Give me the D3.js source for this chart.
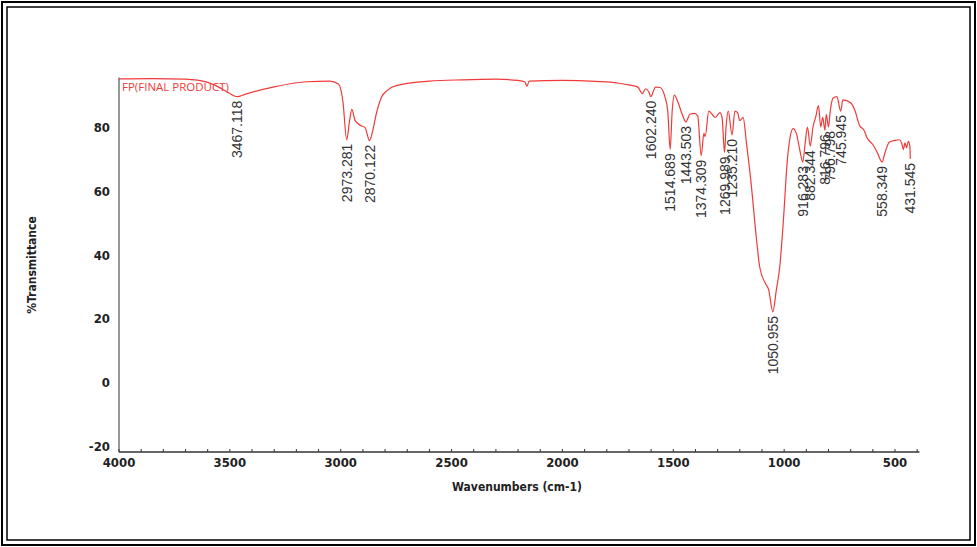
<!DOCTYPE html>
<html><head><meta charset="utf-8">
<script src="https://cdn.jsdelivr.net/npm/d3@7"></script>
<style>body{margin:0;background:#fff}svg{display:block}</style>
</head><body>
<svg id="c" width="977" height="547"></svg>
<script>
// spectrum trace [wavenumber, %T]
const spectrum = [
  [4000,95.1],[3850,95.2],[3700,95],[3600,94],[3550,92.5],[3500,90.5],[3467,89.5],[3430,90.3],[3300,92.6],[3150,94.2],[3050,94.4],[3010,93.5],
  [2990,88],[2973,76],[2960,82],[2950,85.5],[2935,82],[2910,80.5],[2890,79.8],[2870,75.7],[2855,79],[2840,84],[2815,89.5],[2790,91.5],[2750,93],
  [2600,94.4],[2450,94.8],[2300,95],[2200,94.6],[2170,94.2],[2160,92.8],[2150,94.4],[2000,94.6],[1850,94.3],[1750,93.8],[1700,93.2],
  [1660,92.5],[1640,90.5],[1625,92],[1610,91],[1602,89.5],[1580,92.5],[1560,92.4],[1540,90],[1525,85],[1514,73],[1505,85],[1495,90],
  [1480,88],[1460,84],[1443,81.6],[1425,84],[1405,84.3],[1390,83.5],[1374,71],[1362,78],[1356,77],[1340,85],[1325,84],[1310,83],
  [1290,84.5],[1280,83],[1269,72],[1262,80],[1252,85],[1235,77.5],[1222,85],[1210,84.5],[1200,82],[1185,83],[1170,75],[1150,63],
  [1125,45],[1110,36],[1085,31],[1070,29],[1050.955,22],[1035,29],[1020,36],[1005,49],[985,70],[975,76],[960,79.5],[945,78],
  [930,73],[916,69],[905,75],[895,80],[882,74],[870,80],[858,83],[845,86.7],[835,80],[826,83],[816,79],[810,84],[800,80],
  [792,85],[780,89],[762,89.5],[745,85],[735,88.5],[700,87.6],[680,85],[660,80.5],[640,79],[625,76.5],[600,74.5],[580,72],
  [558,69],[545,72],[525,75.3],[500,75.8],[480,76],[470,75],[462,73],[455,75],[448,73.5],[440,75.5],[433,74],[431,70]
];
const peaks = [
  {wn:3467, t:89.5, label:"3467.118"},
  {wn:2973, t:76, label:"2973.281"},
  {wn:2870, t:75.7, label:"2870.122"},
  {wn:1602, t:89.5, label:"1602.240"},
  {wn:1514, t:73, label:"1514.689"},
  {wn:1443, t:81.6, label:"1443.503"},
  {wn:1374, t:71, label:"1374.309"},
  {wn:1269, t:72, label:"1269.989"},
  {wn:1235, t:77.5, label:"1235.210"},
  {wn:1050.955, t:22, label:"1050.955"},
  {wn:916, t:69, label:"916.283"},
  {wn:882, t:74, label:"882.344"},
  {wn:816, t:79, label:"816.796"},
  {wn:792, t:80, label:"796.798"},
  {wn:745, t:85, label:"745.945"},
  {wn:558, t:69, label:"558.349"},
  {wn:431, t:70, label:"431.545"}
];
const xTicks = [4000,3500,3000,2500,2000,1500,1000,500];
const yTicks = [-20,0,20,40,60,80];

const svg = d3.select("#c");
svg.append("rect").attr("x",2).attr("y",2).attr("width",973).attr("height",543)
  .attr("fill","none").attr("stroke","#000").attr("stroke-width",2);
svg.append("rect").attr("x",7).attr("y",7).attr("width",963).attr("height",533)
  .attr("fill","none").attr("stroke","#000").attr("stroke-width",1.5);

const x = d3.scaleLinear().domain([4000,500]).range([119,895]);
const y = d3.scaleLinear().domain([0,80]).range([382,127]);
const xEnd = x(390), yTop = y(95.5), yBot = 452;

// axes
svg.append("line").attr("x1",119).attr("x2",119).attr("y1",yTop).attr("y2",yBot).attr("stroke","#333");
svg.append("line").attr("x1",119).attr("x2",xEnd).attr("y1",yBot).attr("y2",yBot).attr("stroke","#333").attr("stroke-width",1.5);
d3.range(4000,390,-100).forEach(v => {
  svg.append("line").attr("x1",x(v)).attr("x2",x(v)).attr("y1",yBot-3).attr("y2",yBot)
    .attr("stroke","#333");
});
const tickFont = "'DejaVu Sans Condensed','Liberation Sans Narrow',Arial,sans-serif";
xTicks.forEach(v => {
  svg.append("text").attr("x",x(v)).attr("y",yBot+15).attr("text-anchor","middle")
    .style("font-family",tickFont).style("font-weight","bold").style("font-size","13px")
    .style("fill","#222").text(v);
});
yTicks.forEach(v => {
  svg.append("text").attr("x",110).attr("y",y(v)+5).attr("text-anchor","end")
    .style("font-family",tickFont).style("font-weight","bold").style("font-size","13px")
    .style("fill","#222").text(v);
});
svg.append("text").attr("x",517).attr("y",491).attr("text-anchor","middle")
  .style("font-family",tickFont).style("font-weight","bold").style("font-size","12px")
  .style("fill","#222").text("Wavenumbers (cm-1)");
svg.append("text").attr("transform","translate(36,265) rotate(-90)").attr("text-anchor","middle")
  .style("font-family",tickFont).style("font-weight","bold").style("font-size","12px")
  .style("fill","#222").text("%Transmittance");

// spectrum
const line = d3.line().x(d => x(d[0])).y(d => y(d[1])).curve(d3.curveMonotoneX);
svg.append("path").datum(spectrum).attr("d",line).attr("fill","none")
  .attr("stroke","#f03a3a").attr("stroke-width",1.2);

svg.append("text").attr("x",122).attr("y",91)
  .style("font-family","'Open Sans',sans-serif").style("font-size","11.5px")
  .style("fill","#f03a3a").text("FP(FINAL PRODUCT)");

// peak labels
peaks.forEach(p => {
  const px = x(p.wn) + 5, py = y(p.t) + 4;
  svg.append("text").attr("transform",`translate(${px},${py}) rotate(-90)`)
    .attr("text-anchor","end")
    .style("font-family","'Liberation Sans',Arial,sans-serif").style("font-size","14px")
    .style("fill","#333").text(p.label);
});
</script>
</body></html>
